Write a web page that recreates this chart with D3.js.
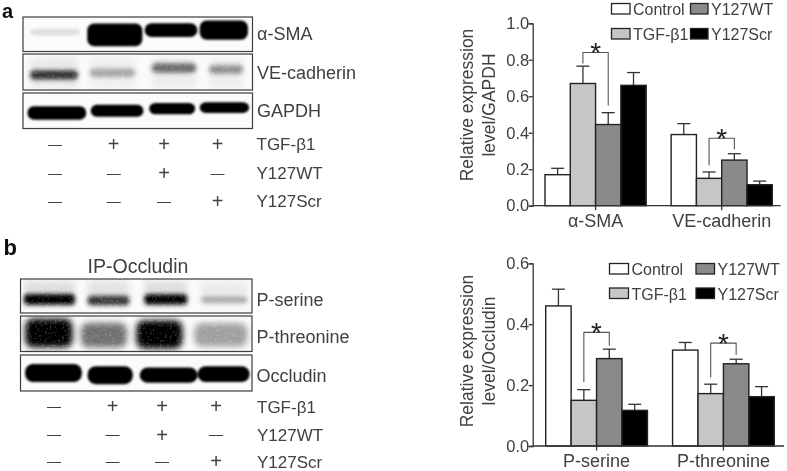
<!DOCTYPE html>
<html>
<head>
<meta charset="utf-8">
<script src="https://cdn.jsdelivr.net/npm/d3@7"></script>
<style>
  html, body { margin: 0; padding: 0; background: #fff; }
  svg { display: block; }
  text { font-family: "Liberation Sans", Arial, sans-serif; fill: #404040; }
</style>
</head>
<body>
<svg id="fig" width="787" height="471"></svg>
<script>
// ---- bar chart data
const seriesNames = ['Control', 'TGF-β1', 'Y127WT', 'Y127Scr'];

const groupsA = ['α-SMA', 'VE-cadherin'];
const meansA = [[0.17, 0.67, 0.445, 0.66], [0.39, 0.15, 0.25, 0.115]];
const errTopsA = [[0.205, 0.765, 0.51, 0.73], [0.45, 0.185, 0.285, 0.135]];
const ticksA = [0, 0.2, 0.4, 0.6, 0.8, 1.0];

const groupsB = ['P-serine', 'P-threonine'];
const meansB = [[0.46, 0.15, 0.287, 0.117], [0.315, 0.172, 0.27, 0.162]];
const errTopsB = [[0.515, 0.185, 0.318, 0.137], [0.34, 0.203, 0.285, 0.195]];
const ticksB = [0, 0.2, 0.4, 0.6];

// significance brackets: [group, top, left foot, right foot]
const bracketsA = [[0, 0.84, 0.78, 0.55], [1, 0.37, 0.22, 0.31]];
const bracketsB = [[0, 0.373, 0.21, 0.33], [1, 0.338, 0.225, 0.3]];

// ---- treatment table
const treatmentNames = ['TGF-β1', 'Y127WT', 'Y127Scr'];
const treatments = [['-', '+', '+', '+'], ['-', '-', '+', '-'], ['-', '-', '-', '+']];

// ---- blot band darkness per lane, 0 to 1
const alphaSmaInk = [0.1, 1, 1, 1];
const veCadherinInk = [0.78, 0.3, 0.55, 0.4];
const gapdhInk = [1, 1, 1, 1];
const pSerineInk = [1, 0.75, 1, 0.3];
const pThreonineInk = [1, 0.55, 1, 0.36];
const occludinInk = [1, 1, 1, 1];

// ---- layout
const colours = ['#ffffff', '#c6c6c6', '#8a8a8a', '#000000'];
const axisColour = '#333';
const labelSize = 18;

const svg = d3.select('#fig');
const defs = svg.append('defs');

defs.append('filter').attr('id', 'soft').attr('x', '-2%').attr('y', '-2%').attr('width', '104%').attr('height', '104%')
  .append('feGaussianBlur').attr('stdDeviation', 0.4);

function bandFilter(id, blur, grain) {
  const f = defs.append('filter').attr('id', id).attr('x', '-20%').attr('y', '-40%').attr('width', '140%').attr('height', '180%')
    .attr('color-interpolation-filters', 'sRGB');
  f.append('feGaussianBlur').attr('in', 'SourceGraphic').attr('stdDeviation', blur).attr('result', 'b');
  f.append('feTurbulence').attr('type', 'fractalNoise').attr('baseFrequency', 0.4).attr('numOctaves', 2).attr('seed', 4).attr('result', 'n');
  f.append('feColorMatrix').attr('in', 'n').attr('type', 'matrix')
    .attr('values', `0 0 0 0 0  0 0 0 0 0  0 0 0 0 0  ${grain} 0 0 0 ${1 - grain * 0.45}`).attr('result', 'a');
  f.append('feComposite').attr('in', 'b').attr('in2', 'a').attr('operator', 'in');
}
bandFilter('solid', 1.1, 0);
bandFilter('grainy', 2, 0.9);
bandFilter('fuzzy', 3, 0.9);
bandFilter('halo', 3, 1);

const root = svg.append('g').attr('filter', 'url(#soft)');

root.append('text').attr('x', 2).attr('y', 18.4).attr('font-size', 20).attr('font-weight', 'bold').style('fill', '#111').text('a');
root.append('text').attr('x', 3.5).attr('y', 255).attr('font-size', 22).attr('font-weight', 'bold').style('fill', '#111').text('b');

// one blot strip: spans/heights are where each lane's band sits in the strip
function blot(box, label, labelY, ink, spans, kind) {
  const g = root.append('g');
  const xs = d3.scaleLinear().domain([0, 1]).range([box.x0, box.x1]);
  const ys = d3.scaleLinear().domain([0, 1]).range([box.y0, box.y1]);
  const clipId = 'clip' + label.replace(/\W/g, '');
  defs.append('clipPath').attr('id', clipId).append('rect')
    .attr('x', box.x0).attr('y', box.y0).attr('width', box.x1 - box.x0).attr('height', box.y1 - box.y0);
  const inner = g.append('g').attr('clip-path', `url(#${clipId})`);
  inner.append('rect').attr('x', box.x0).attr('y', box.y0).attr('width', box.x1 - box.x0).attr('height', box.y1 - box.y0).attr('fill', '#fbfbfb');

  if (kind.halo) {
    inner.append('g').attr('filter', 'url(#halo)').selectAll('rect').data(spans).join('rect')
      .attr('x', (d) => xs(d[0]))
      .attr('width', (d) => xs(d[1]) - xs(d[0]))
      .attr('y', (d) => ys(kind.haloTop))
      .attr('height', (d) => ys(kind.haloBottom) - ys(kind.haloTop))
      .attr('fill', '#000')
      .attr('opacity', (d, i) => kind.halo * (0.4 + ink[i] * 0.6));
  }
  inner.append('g').attr('filter', `url(#${kind.filter})`).selectAll('rect').data(spans).join('rect')
    .attr('x', (d) => xs(d[0]))
    .attr('width', (d) => xs(d[1]) - xs(d[0]))
    .attr('y', (d) => ys(d[2] - d[3] / 2))
    .attr('height', (d) => ys(d[2] + d[3] / 2) - ys(d[2] - d[3] / 2))
    .attr('rx', kind.rx).attr('ry', kind.rx)
    .attr('fill', '#000')
    .attr('opacity', (d, i) => ink[i]);

  g.append('rect').attr('x', box.x0).attr('y', box.y0).attr('width', box.x1 - box.x0).attr('height', box.y1 - box.y0)
    .attr('fill', 'none').attr('stroke', '#3c3c3c').attr('stroke-width', 1.2);
  g.append('text').attr('x', box.x1 + 4.5).attr('y', labelY).attr('font-size', labelSize).text(label);
}

// strip geometry: [left, right, centre, height] as fractions of the strip
blot({ x0: 23, x1: 252.5, y0: 17, y1: 51.5 }, 'α-SMA', 40, alphaSmaInk,
  [[0.03, 0.25, 0.44, 0.2], [0.28, 0.52, 0.52, 0.66], [0.53, 0.76, 0.38, 0.4], [0.77, 0.98, 0.38, 0.56]],
  { filter: 'solid', rx: 7 });
blot({ x0: 23, x1: 252.5, y0: 54, y1: 90 }, 'VE-cadherin', 78.7, veCadherinInk,
  [[0.03, 0.24, 0.58, 0.26], [0.29, 0.49, 0.52, 0.24], [0.56, 0.755, 0.39, 0.26], [0.81, 0.96, 0.43, 0.24]],
  { filter: 'grainy', rx: 5, halo: 0.08, haloTop: 0.1, haloBottom: 0.95 });
blot({ x0: 23, x1: 252.5, y0: 93, y1: 128.5 }, 'GAPDH', 117.3, gapdhInk,
  [[0.02, 0.275, 0.56, 0.38], [0.295, 0.525, 0.5, 0.34], [0.55, 0.75, 0.44, 0.32], [0.77, 0.985, 0.41, 0.3]],
  { filter: 'solid', rx: 6 });

root.append('text').attr('x', 138).attr('y', 273).attr('text-anchor', 'middle').attr('font-size', 19.5).text('IP-Occludin');

blot({ x0: 20.5, x1: 252, y0: 279, y1: 313 }, 'P-serine', 306, pSerineInk,
  [[0.015, 0.235, 0.6, 0.32], [0.29, 0.47, 0.63, 0.28], [0.535, 0.72, 0.6, 0.3], [0.78, 0.98, 0.61, 0.17]],
  { filter: 'grainy', rx: 4, halo: 0.11, haloTop: 0.05, haloBottom: 0.8 });
blot({ x0: 20.5, x1: 252, y0: 316, y1: 351.5 }, 'P-threonine', 342.7, pThreonineInk,
  [[0.02, 0.225, 0.48, 0.82], [0.26, 0.46, 0.54, 0.7], [0.5, 0.7, 0.52, 0.8], [0.75, 0.98, 0.53, 0.66]],
  { filter: 'fuzzy', rx: 8 });
blot({ x0: 20.5, x1: 252, y0: 355, y1: 391 }, 'Occludin', 382.3, occludinInk,
  [[0.02, 0.265, 0.5, 0.5], [0.29, 0.485, 0.56, 0.5], [0.515, 0.765, 0.56, 0.42], [0.765, 0.99, 0.53, 0.44]],
  { filter: 'solid', rx: 8 });

// +/- rows under each blot
function treatmentTable(cols, rowYs, labelX, labelYs) {
  const x = d3.scaleOrdinal().domain(d3.range(4)).range(cols);
  const y = d3.scaleOrdinal().domain(d3.range(3)).range(rowYs);
  treatments.forEach((row, r) => {
    root.append('g').selectAll('text').data(row).join('text')
      .attr('x', (d, i) => x(i))
      .attr('y', (d) => y(r) + (d === '+' ? 6.6 : 4))
      .attr('text-anchor', 'middle')
      .attr('font-size', (d) => (d === '+' ? 20 : 14))
      .text((d) => (d === '+' ? '+' : '—'));
    root.append('text').attr('x', labelX).attr('y', labelYs[r]).attr('font-size', 17).text(treatmentNames[r]);
  });
}
treatmentTable([55, 113.7, 164, 217.5], [144.5, 173.5, 201.5], 256.5, [150, 179.3, 206.7]);
treatmentTable([54, 112.5, 162, 216], [406.7, 435, 461.5], 257, [412.7, 440.7, 468]);

// grouped bars with error caps, brackets and stars
function barChart(cfg) {
  const g = root.append('g');
  const y = d3.scaleLinear().domain([0, cfg.ticks[cfg.ticks.length - 1]]).range([cfg.y0, cfg.y1]);
  const x0 = d3.scaleBand().domain(cfg.groups).range(cfg.xRange).paddingInner(0.198);
  const x1 = d3.scaleBand().domain(seriesNames).range([0, x0.bandwidth()]);
  const flat = cfg.groups.flatMap((grp, i) => seriesNames.map((s, j) => ({
    grp, s, j, mean: cfg.means[i][j], top: cfg.tops[i][j],
  })));
  const cx = (d) => x0(d.grp) + x1(d.s) + x1.bandwidth() / 2;

  g.append('g').selectAll('line').data(flat).join('line')
    .attr('x1', cx).attr('x2', cx)
    .attr('y1', (d) => y(d.mean)).attr('y2', (d) => y(d.top))
    .attr('stroke', axisColour).attr('stroke-width', 1.3);
  g.append('g').selectAll('line').data(flat).join('line')
    .attr('x1', (d) => cx(d) - 6.5).attr('x2', (d) => cx(d) + 6.5)
    .attr('y1', (d) => y(d.top)).attr('y2', (d) => y(d.top))
    .attr('stroke', axisColour).attr('stroke-width', 1.3);
  g.append('g').selectAll('rect').data(flat).join('rect')
    .attr('x', (d) => x0(d.grp) + x1(d.s))
    .attr('width', x1.bandwidth())
    .attr('y', (d) => y(d.mean))
    .attr('height', (d) => y(0) - y(d.mean))
    .attr('fill', (d) => colours[d.j])
    .attr('stroke', '#222').attr('stroke-width', 1.4);

  // axes
  const yAxis = g.append('g').attr('transform', `translate(${cfg.axisX},0)`)
    .call(d3.axisLeft(y).tickValues(cfg.ticks).tickFormat(d3.format('.1f')).tickSize(4).tickPadding(-0.5));
  const xAxis = g.append('g').attr('transform', `translate(0,${cfg.y0})`)
    .call(d3.axisBottom(x0).tickSize(4.5).tickPadding(4));
  xAxis.select('.domain').attr('d', `M${cfg.axisX},0H${cfg.axisEnd}`);
  [yAxis, xAxis].forEach((a) => {
    a.selectAll('.domain, .tick line').attr('stroke', axisColour).attr('stroke-width', 1.3);
    a.selectAll('text').attr('font-family', null).style('fill', '#404040');
  });
  yAxis.selectAll('text').attr('font-size', 16.5);
  xAxis.selectAll('text').attr('font-size', labelSize);

  // y titles
  cfg.title.forEach((t, i) => {
    g.append('text')
      .attr('transform', `translate(${cfg.titleX[i]},${cfg.titleY}) rotate(-90)`)
      .attr('text-anchor', 'middle').attr('font-size', 17.5).text(t);
  });

  // brackets
  cfg.brackets.forEach(([grp, top, left, right]) => {
    const gn = cfg.groups[grp];
    const xa = x0(gn) + x1('TGF-β1') + x1.bandwidth() / 2;
    const xb = x0(gn) + x1('Y127WT') + x1.bandwidth() / 2;
    g.append('path')
      .attr('d', d3.line()([[xa, y(left)], [xa, y(top)], [xb, y(top)], [xb, y(right)]]))
      .attr('fill', 'none').attr('stroke', '#555').attr('stroke-width', 1.1);
    g.append('text').attr('x', (xa + xb) / 2).attr('y', y(top) + 10)
      .attr('text-anchor', 'middle').attr('font-size', 28).style('fill', '#222').text('*');
  });

  // legend
  const order = [0, 2, 1, 3];
  order.forEach((s, i) => {
    const col = i % 2, row = i >> 1;
    const lx = cfg.legendX[col], ly = cfg.legendY[row];
    g.append('rect').attr('x', lx).attr('y', ly).attr('width', cfg.swatch[col]).attr('height', 10.5)
      .attr('fill', colours[s]).attr('stroke', '#222').attr('stroke-width', 1.3);
    g.append('text').attr('x', lx + cfg.swatch[col] + 3).attr('y', ly + 11.5)
      .attr('font-size', 16).text(seriesNames[s]);
  });
}

barChart({
  groups: groupsA, means: meansA, tops: errTopsA, ticks: ticksA, brackets: bracketsA,
  y0: 205.7, y1: 23.3, xRange: [545, 772.3], axisX: 532.7, axisEnd: 780.7,
  title: ['Relative expression', 'level/GAPDH'], titleX: [473, 495], titleY: 105,
  legendX: [611.5, 690.5], legendY: [3.5, 28.5], swatch: [18.5, 17.5],
});
barChart({
  groups: groupsB, means: meansB, tops: errTopsB, ticks: ticksB, brackets: bracketsB,
  y0: 446, y1: 263.3, xRange: [545.7, 774.3], axisX: 532.7, axisEnd: 784,
  title: ['Relative expression', 'level/Occludin'], titleX: [473, 495], titleY: 351,
  legendX: [609.5, 696], legendY: [263.5, 288], swatch: [19, 18.5],
});
</script>
</body>
</html>
